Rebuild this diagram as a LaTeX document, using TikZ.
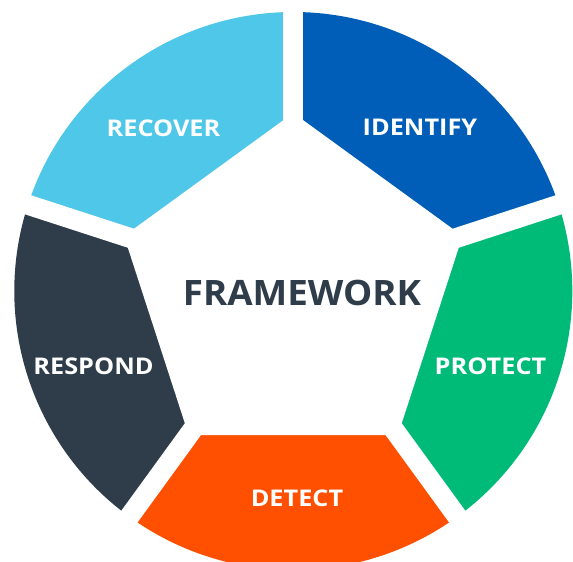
\documentclass[tikz,border=0pt]{standalone}
\usepackage{fontspec}
\setmainfont{Open Sans}
\newfontfamily\labelfont[FakeStretch=1.1]{Open Sans}
\newfontfamily\titlefont[FakeStretch=1.05]{Open Sans}
\usetikzlibrary{calc}
\definecolor{cRecover}{HTML}{4FC7E8}
\definecolor{cIdentify}{HTML}{005EB8}
\definecolor{cProtect}{HTML}{00BB77}
\definecolor{cDetect}{HTML}{FE5000}
\definecolor{cRespond}{HTML}{2F3D4A}
\tikzset{
  seglabel/.style={text=white, inner sep=0pt, font=\labelfont\bfseries\fontsize{23}{28}\selectfont},
  gapline/.style={white, line width=20pt, line cap=butt},
}
\begin{document}
\begin{tikzpicture}[x=1pt,y=1pt]
\useasboundingbox (0,0) rectangle (573,562);
\clip (0,0) rectangle (573,562);
\fill[white] (0,0) rectangle (573,562);
\coordinate (C) at (293.3,271);
\def\R{279}
\def\r{178}
% sectors
\fill[cIdentify] (C) -- ++(90:\R) arc[start angle=90, end angle=18, radius=\R] -- cycle;
\fill[cProtect] (C) -- ++(18:\R) arc[start angle=18, end angle=-54, radius=\R] -- cycle;
\fill[cDetect] (C) -- ++(-54:\R) arc[start angle=-54, end angle=-126, radius=\R] -- cycle;
\fill[cRespond] (C) -- ++(-126:\R) arc[start angle=-126, end angle=-198, radius=\R] -- cycle;
\fill[cRecover] (C) -- ++(162:\R) arc[start angle=162, end angle=90, radius=\R] -- cycle;
% inner pentagon
\fill[white] ($(C)+(90:\r)$) -- ($(C)+(18:\r)$) -- ($(C)+(-54:\r)$) -- ($(C)+(-126:\r)$) -- ($(C)+(162:\r)$) -- cycle;
% gaps
\foreach \a/\n in {90/g1,18/g2,-54/g3,-126/g4,162/g5}{
  \coordinate (\n) at ($(C)+(\a:\R+10)$);
  \draw[gapline] (C) -- (\n);
}
% labels
\node[seglabel] (recover) at (163.5,434) {RECOVER};
\node[seglabel] (identify) at (420,435) {IDENTIFY};
\node[seglabel] (protect) at (490.5,195.5) {PROTECT};
\node[seglabel] (respond) at (93.5,196) {RESPOND};
\node[seglabel] (detect) at (297,64) {DETECT};
\node[text=cRespond, inner sep=0pt, font=\titlefont\bfseries\fontsize{35}{42}\selectfont] (fw) at (302,269.5) {FRAMEWORK};
\end{tikzpicture}
\end{document}
